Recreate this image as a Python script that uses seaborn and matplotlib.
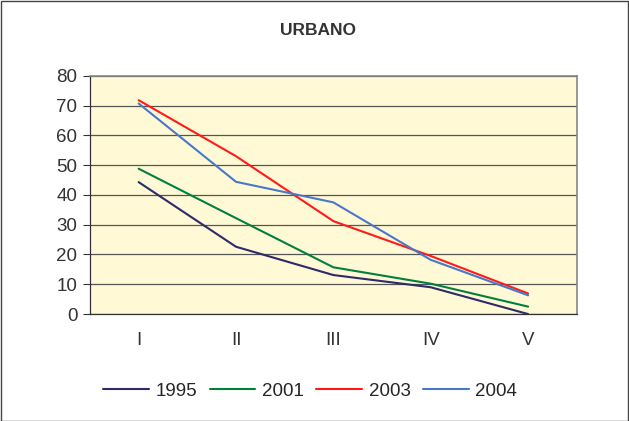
import numpy as np
import pandas as pd
import matplotlib
matplotlib.use('Agg')
import matplotlib.pyplot as plt
import seaborn as sns

# Dados
categorias = ['I', 'II', 'III', 'IV', 'V']
anos = ['1995', '2001', '2003', '2004']
v1995 = [44.3, 22.6, 13.1, 9.0, 0.0]
v2001 = [48.8, 32.2, 15.7, 10.2, 2.5]
v2003 = [71.8, 53.0, 31.2, 19.5, 6.9]
v2004 = [70.7, 44.4, 37.5, 18.2, 6.3]
cores = ['#2E2A6B', '#00803F', '#FF1A1A', '#4A78C8']

df = pd.DataFrame({
    'pos': list(range(len(categorias))) * 4,
    'valor': v1995 + v2001 + v2003 + v2004,
    'ano': [a for a in anos for _ in categorias],
})

sns.set_style('white')
plt.rcParams['font.family'] = ['Liberation Sans', 'DejaVu Sans']

fig = plt.figure(figsize=(6.29, 4.21), dpi=100)
ax = fig.add_axes([0.143, 0.254, 0.774, 0.566])
ax.set_facecolor('#FFF9D5')

sns.lineplot(data=df, x='pos', y='valor', hue='ano', palette=cores,
             linewidth=1.5, ax=ax, legend=True)

ax.set_xlim(-0.5, 4.5)
ax.set_ylim(0, 80)
ax.set_yticks(range(0, 81, 10))
ax.set_xticks(range(5))
ax.set_xticklabels(categorias)
ax.set_xticks(np.arange(-0.5, 5, 1), minor=True)
ax.tick_params(axis='x', which='major', length=0, pad=13, labelsize=13.5, colors='#333333')
ax.tick_params(axis='x', which='minor', length=5, color='#333333', width=0.8)
ax.tick_params(axis='y', length=5, pad=4, color='#333333', labelsize=13.5, colors='#333333',
               width=0.8, left=True)
ax.yaxis.grid(True, color='#555555', linewidth=0.9)
ax.set_axisbelow(True)
ax.set_xlabel('')
ax.set_ylabel('')
for s in ['top', 'right']:
    ax.spines[s].set_color('#888888')
    ax.spines[s].set_linewidth(1.2)
for s in ['left', 'bottom']:
    ax.spines[s].set_color('#333333')
    ax.spines[s].set_linewidth(0.9)

fig.text(0.505, 0.928, 'URBANO', ha='center', va='center', fontsize=12.5,
         fontweight='bold', color='#333333')

handles, labels = ax.get_legend_handles_labels()
ax.legend_.remove()
fig.legend(handles, labels, loc='center', bbox_to_anchor=(0.493, 0.071), ncol=4,
           frameon=False, fontsize=13.5, handlelength=2.45, columnspacing=0.65,
           handletextpad=0.35)

fig.patches.append(plt.Rectangle((0.001, 0.001), 0.997, 0.997, transform=fig.transFigure,
                                 fill=False, edgecolor='#444444', linewidth=1))

plt.savefig('out.png', dpi=100)
